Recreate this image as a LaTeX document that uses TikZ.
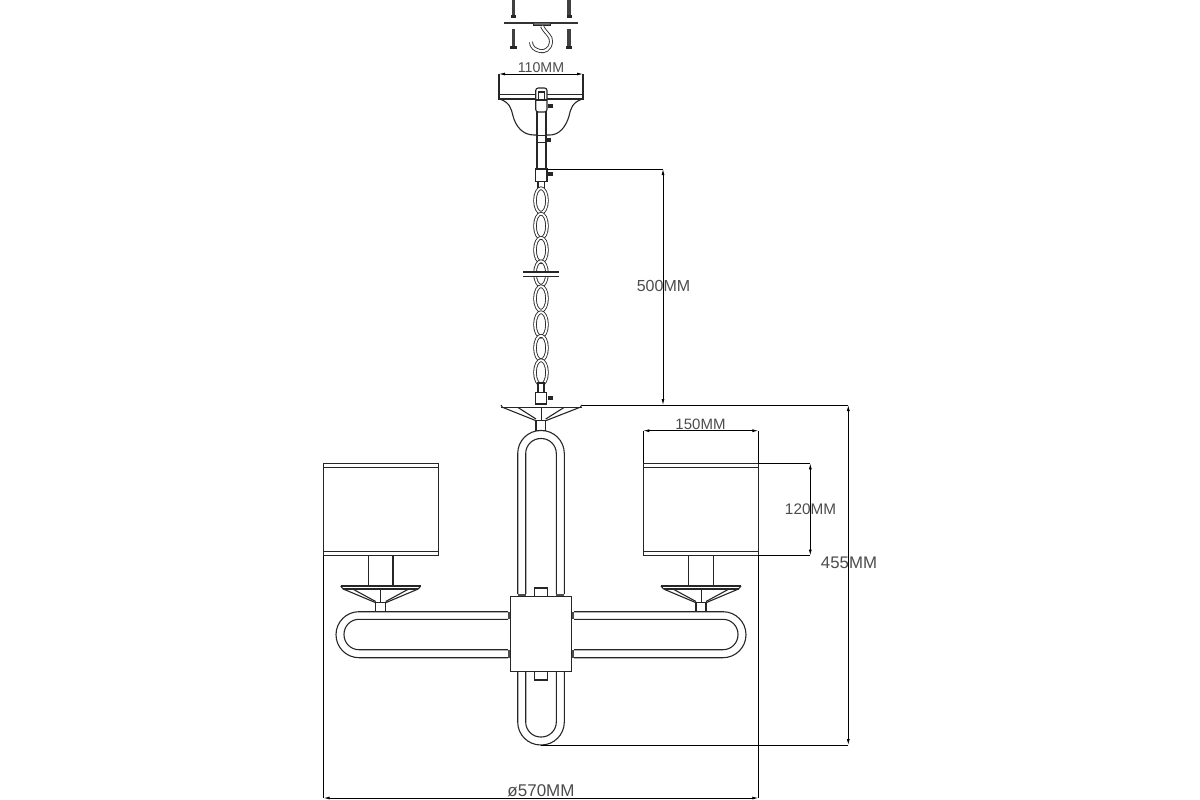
\documentclass[tikz,border=0pt]{standalone}
\usepackage{fontspec}
\setmainfont{Liberation Sans}
\usetikzlibrary{arrows.meta}
\tikzset{
	part/.style={line width=1.1pt,black!85},
	partw/.style={part,fill=white},
	thin part/.style={line width=0.8pt,black!85},
	chainlink/.style={line width=0.85pt,black!85,double=white,double distance=1.8pt},
	dimline/.style={line width=0.8pt,black,{Latex[length=6pt,width=3pt]}-{Latex[length=6pt,width=3pt]}},
	extline/.style={line width=0.8pt,black},
	dimtext/.style={font=\fontsize{16}{16}\selectfont,text=black!70,inner sep=0pt},
}
\begin{document}
\begin{tikzpicture}[x=1pt,y=-1pt]
	\useasboundingbox (0,0) rectangle (1200,800);
	% ceiling plate, hook, screws
	\draw[line width=1.8pt,black!80] (504,22.7) -- (578,22.7);
	\draw[part,fill=black!60] (533.5,23) -- (533.5,25.5) -- (550.5,25.5) -- (550.5,23);
	\draw[chainlink,double distance=2.2pt] (542,26) .. controls (545,33) and (552,36) .. (551,42) .. controls (550,50) and (544,52) .. (540,51) .. controls (535,50) and (531,47) .. (531,42);
	\foreach \sx in {513.7,569} {
		\draw[line width=3.4pt,black!75] (\sx,0) -- (\sx,15);
		\draw[line width=5pt,black!85] (\sx,15) -- (\sx,18);
		\draw[line width=3.4pt,black!75] (\sx,29) -- (\sx,46);
		\draw[line width=6.5pt,black!85] (\sx,46) -- (\sx,49);
	}
	% canopy
	\draw[part] (499,74) -- (499,99) -- (583,99) -- (583,74);
	\draw[part] (499,94.5) -- (583,94.5);
	\draw[part] (500,99) .. controls (510,103) and (511,108) .. (513,116) .. controls (516,127) and (523,135) .. (534,135) -- (550,135) .. controls (559,135) and (566,127) .. (569,116) .. controls (571,108) and (572,103) .. (582,99);
	% rod
	\draw[partw] (537,100) rectangle (546,170);
	\draw[partw,rounded corners=2.5pt] (535.7,88) -- (535.7,112) -- (547,112) -- (547,88) -- cycle;
	\draw[part] (538.6,92) rectangle (544.3,100);
	\draw[part] (535.7,100) -- (547,100);
	\draw[partw] (537,135.7) rectangle (546,142.7);
	\draw[partw] (535.7,169) rectangle (547,181.7);
	\draw[part] (538,181.7) -- (538,190);
	\draw[part] (544.5,181.7) -- (544.5,190);
	\foreach \sx/\sy in {550.5/106,548.5/140,550/174,550/398} {
		\fill[black!85] (\sx-2.5,\sy-2) rectangle (\sx+2.5,\sy+2);
	}
	% chain
	\foreach \cy in {200.5,226,250,273.5,298.5,324.5,348,372.5} {
		\draw[chainlink] (541,\cy) ellipse (6pt and 12.3pt);
	}
	\fill[white] (520,272.8) rectangle (562,276);
	\draw[part] (523,272) -- (558.7,272);
	\draw[part] (523,276.7) -- (558.7,276.7);
	\draw[partw] (538,383) rectangle (544,393);
	\draw[partw] (535.7,392.7) rectangle (546.7,404);
	% top plate of arms
	\draw[part] (501,407.5) -- (581.7,407.5);
	\draw[part] (501,405) -- (502.5,407.5);
	\draw[part] (581.7,405) -- (580.2,407.5);
	\draw[part] (503,407.5) -- (536,420.7);
	\draw[part] (518,407.5) -- (536,419);
	\draw[part] (579.5,407.5) -- (545.7,420.7);
	\draw[part] (564,407.5) -- (545.7,419);
	\draw[thin part] (541,407.5) -- (541,420.7);
	\draw[part] (536,420.7) rectangle (545.7,430.7);
	% vertical loop
	\draw[part,rounded corners=23pt] (517.7,594) -- (517.7,430.5) -- (564.3,430.5) -- (564.3,594);
	\draw[part,rounded corners=15pt] (525.7,594) -- (525.7,438.5) -- (556.3,438.5) -- (556.3,594);
	\draw[part,rounded corners=23pt] (517.7,672) -- (517.7,745) -- (564.3,745) -- (564.3,672);
	\draw[part,rounded corners=15pt] (525.7,672) -- (525.7,737) -- (556.3,737) -- (556.3,672);
	% arms, left one and mirrored right one
	\foreach \mx/\ms in {0/1,1082/-1} {
		\begin{scope}[xshift=\mx pt,xscale=\ms]
			\draw[part,rounded corners=23pt] (508,611.7) -- (336,611.7) -- (336,657.7) -- (508,657.7);
			\draw[part,rounded corners=15pt] (508,619.3) -- (344,619.3) -- (344,649.7) -- (508,649.7);
			\fill[black!70] (508,611.7) rectangle (510.7,619.3);
			\fill[black!70] (508,649.7) rectangle (510.7,657.7);
		\end{scope}
	}
	% hub
	\foreach \sx in {517.7,556.3} {
		\fill[black!70] (\sx,594) rectangle (\sx+8,596.7);
	}
	\draw[part,line width=1.3pt] (510.7,596.7) rectangle (571.7,671.7);
	\draw[part] (534.7,588) rectangle (547.3,596.7);
	\draw[part] (534.7,671.7) rectangle (547.3,680);
	% shades and holders
	\foreach \sx in {323.7,643.3} {
		\draw[part] (\sx,463.3) rectangle (\sx+114.8,555.5);
		\draw[part] (\sx,467.3) -- (\sx+114.8,467.3);
		\draw[part] (\sx,551.2) -- (\sx+114.8,551.2);
	}
	\foreach \bx in {380.7,701} {
		\draw[part] (\bx-12.3,555.5) -- (\bx-12.3,586);
		\draw[part] (\bx+12.3,555.5) -- (\bx+12.3,586);
		\draw[part] (\bx-40,586) -- (\bx+40,586);
		\draw[part] (\bx-40,586) -- (\bx-37.5,589);
		\draw[part] (\bx+40,586) -- (\bx+37.5,589);
		\draw[part] (\bx-37.5,589) -- (\bx+37.5,589);
		\draw[part] (\bx-37.5,589) -- (\bx-5,602.7);
		\draw[part] (\bx+37.5,589) -- (\bx+5,602.7);
		\draw[part] (\bx-28,589) -- (\bx-5,601.5);
		\draw[part] (\bx+28,589) -- (\bx+5,601.5);
		\draw[thin part] (\bx,589) -- (\bx,602.7);
		\draw[part] (\bx-5,602.7) rectangle (\bx+5,611.7);
	}
	% dimension points
	\coordinate (canopyl) at (499,74);
	\coordinate (canopyr) at (583,74);
	\coordinate (chaintop) at (547,169);
	\coordinate (chaindim) at (663,169);
	\coordinate (platel) at (581.7,405);
	\coordinate (chainend) at (663,405);
	\coordinate (heighttop) at (848.3,405);
	\coordinate (bottomc) at (541,745);
	\coordinate (heightend) at (848.3,745);
	\coordinate (shadel) at (643.3,430.7);
	\coordinate (shader) at (758.3,430.7);
	\coordinate (shadetop) at (758.3,463.3);
	\coordinate (shadebot) at (758.3,555.5);
	\coordinate (tall) at (810.3,463.3);
	\coordinate (talle) at (810.3,555.5);
	\coordinate (widel) at (323.7,798);
	\coordinate (wider) at (758.3,798);
	\coordinate (shadeln) at (323.7,555.5);
	\coordinate (shadelt) at (643.3,463.3);
	%
	\draw[dimline] (canopyl) -- (canopyr);
	\draw[extline] (chaintop) -- (chaindim);
	\draw[extline] (platel) -- (heighttop);
	\draw[extline] (bottomc) -- (heightend);
	\draw[dimline] (chaindim) -- (chainend);
	\draw[dimline] (heighttop) -- (heightend);
	\draw[dimline] (shadel) -- (shader);
	\draw[extline] (shadel) -- (shadelt);
	\draw[extline] (shader) -- (shadetop);
	\draw[extline] (shadetop) -- (tall);
	\draw[extline] (shadebot) -- (talle);
	\draw[dimline] (tall) -- (talle);
	\draw[extline] (shadebot) -- (wider);
	\draw[extline] (shadeln) -- (widel);
	\draw[dimline] (widel) -- (wider);
	%
	\node[dimtext,font=\fontsize{14.2}{14}\selectfont] (dim110) at (541,67.5) {110MM};
	\node[dimtext] (dim500) at (663.5,286) {500MM};
	\node[dimtext,font=\fontsize{15}{15}\selectfont] (dim150) at (700.5,424.5) {150MM};
	\node[dimtext,font=\fontsize{15.3}{15}\selectfont] (dim120) at (810.5,509) {120MM};
	\node[dimtext,font=\fontsize{16.8}{16}\selectfont] (dim455) at (849,562.5) {455MM};
	\node[dimtext,font=\fontsize{17}{16}\selectfont] (dim570) at (541,791) {ø570MM};
\end{tikzpicture}
\end{document}
